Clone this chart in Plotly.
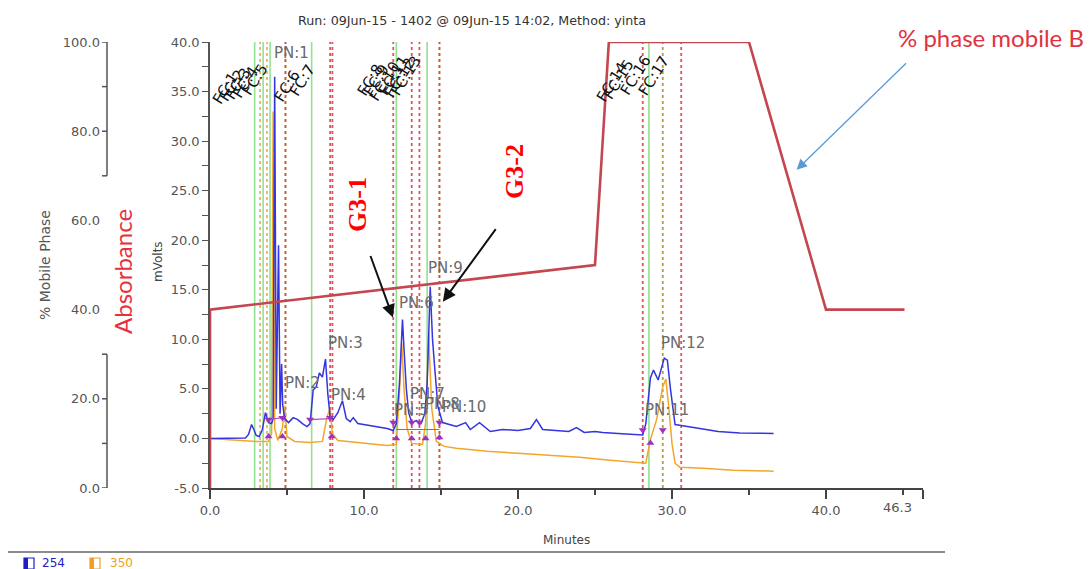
import plotly.graph_objects as go

# ---------------- data ----------------
# detector trace at 254 nm (minutes, mV)
time_254 = [0.0, 1.0, 2.3, 2.5, 2.7, 2.85, 3.0, 3.2, 3.4, 3.6, 3.8, 4.0, 4.1, 4.2, 4.3, 4.45, 4.55,
            4.65, 4.72, 4.85, 5.1, 5.4, 5.7, 6.0, 6.3, 6.5, 6.7, 6.9, 7.1, 7.3, 7.5, 7.65, 7.8,
            8.0, 8.3, 8.6, 8.85, 9.1, 9.3, 9.6, 10.0, 10.5, 11.0, 11.5, 11.9, 12.1, 12.3, 12.5,
            12.6, 12.75, 12.9, 13.1, 13.4, 13.7, 13.95, 14.1, 14.3, 14.45, 14.6, 14.8, 15.1,
            15.5, 16.0, 16.6, 16.9, 17.5, 18.2, 19.0, 20.0, 20.8, 21.2, 21.6, 22.5, 23.3, 23.8,
            24.3, 25.0, 25.5, 26.5, 27.5, 28.1, 28.3, 28.45, 28.6, 28.8, 29.1, 29.5, 29.7, 29.9,
            30.0, 30.2, 30.6, 31.0, 32.0, 33.0, 34.4, 36.6]
mv_254 = [0.0, 0.0, 0.05, 0.4, 1.4, 0.9, 0.3, 0.2, 0.9, 2.6, 1.6, 1.5, 2.0, 36.5, 3.0, 19.5, 2.5,
          7.5, 3.4, 2.0, 1.6, 2.1, 1.9, 1.5, 1.2, 1.5, 4.9, 5.2, 6.6, 6.2, 8.0, 4.5, 2.2,
          1.9, 2.6, 3.8, 2.0, 1.7, 2.1, 1.5, 1.4, 1.3, 1.1, 1.0, 0.8, 1.5, 5.5, 12.0,
          9.0, 5.0, 2.6, 1.6, 1.8, 1.5, 2.5, 5.5, 15.3, 10.0, 7.0, 3.2, 1.6,
          1.4, 1.2, 1.6, 0.9, 1.6, 0.7, 0.9, 0.8, 1.0, 1.9, 0.9, 0.8, 0.7, 1.1,
          0.6, 0.7, 0.6, 0.5, 0.45, 0.35, 1.5, 4.2, 6.1, 6.9, 5.9, 8.1, 7.9, 5.0,
          3.6, 1.4, 1.3, 1.2, 0.9, 0.7, 0.55, 0.5]

# detector trace at 350 nm (minutes, mV)
time_350 = [0.0, 2.0, 3.0, 3.8, 4.0, 4.1, 4.2, 4.4, 4.7, 4.85, 5.0, 5.5, 6.5, 7.3, 7.6, 7.8,
            7.95, 8.3, 9.0, 10.2, 11.5, 12.1, 12.3, 12.45, 12.6, 12.8, 13.1, 13.8, 14.0, 14.2,
            14.4, 14.7, 15.2, 16.0, 18.0, 20.0, 22.0, 24.0, 26.0, 28.0, 28.3, 28.6, 29.0, 29.4,
            29.6, 29.8, 30.0, 30.2, 30.5, 32.0, 34.0, 36.6]
mv_350 = [0.0, -0.2, -0.3, -0.3, 0.5, 33.0, 1.0, -0.2, 1.0, 3.3, 0.2, -0.3, -0.4, -0.3, 2.2, 3.0,
          0.5, -0.2, -0.3, -0.5, -0.7, -0.6, 4.5, 9.6, 5.0, 1.0, -0.5, -0.6, 1.5, 10.5,
          3.0, -0.3, -0.8, -1.0, -1.3, -1.5, -1.7, -1.9, -2.2, -2.4, -2.5, -0.1, 1.9, 5.2,
          6.0, 3.0, -0.5, -2.5, -2.9, -3.0, -3.2, -3.3]

# solvent B gradient programme (minutes, %)
gradient_time = [0.0, 0.0, 25.0, 25.9, 35.0, 40.0, 45.1]
gradient_pct = [0.0, 40.0, 50.0, 100.0, 100.0, 40.0, 40.0]

# peak start / end events and integration baselines
peak_start_time = [3.8, 4.7, 6.5, 7.8, 11.9, 13.1, 13.6, 14.9, 28.1, 29.4]
peak_start_mv = [1.9, 2.1, 1.9, 2.1, 1.6, 1.6, 1.6, 1.6, 0.85, 0.85]
peak_end_time = [3.8, 4.7, 7.9, 12.1, 13.1, 14.0, 14.9, 28.6]
peak_end_mv = [0.2, 0.2, 0.2, 0.0, 0.0, 0.0, 0.1, -0.45]
baseline_time = [3.8, 4.7, None, 6.5, 7.8, None, 12.1, 14.9]
baseline_mv = [1.9, 2.1, None, 1.9, 2.0, None, 0.9, 0.9]

# peak numbers and where their labels sit (minutes, mV)
pn_labels = ["PN:1", "PN:2", "PN:3", "PN:4", "PN:5", "PN:6", "PN:7", "PN:8", "PN:9", "PN:10",
             "PN:11", "PN:12"]
pn_time = [5.3, 6.0, 8.8, 9.0, 13.1, 13.4, 14.1, 15.1, 15.3, 16.5, 29.7, 30.7]
pn_mv = [38.9, 5.6, 9.6, 4.4, 2.9, 13.7, 4.5, 3.5, 17.2, 3.2, 2.9, 9.6]

# fraction collector labels
fc_labels = ["FC:1", "FC:2", "FC:3", "FC:4", "FC:5", "FC:6", "FC:7", "FC:8", "FC:9", "FC:10",
             "FC:11", "FC:12", "FC:13", "FC:14", "FC:15", "FC:16", "FC:17"]
fc_time = [1.0, 1.4, 1.8, 2.3, 2.9, 5.0, 6.0, 10.4, 10.8, 11.3, 11.9, 12.3, 12.7,
           26.1, 26.5, 27.6, 28.8]
fc_mv = [35.4, 35.6, 35.8, 36.0, 36.2, 35.6, 36.2, 36.2, 36.2, 36.0, 36.6, 36.4, 36.6,
         36.0, 36.2, 36.6, 36.6]

# fraction cut marks (minutes)
cut_green = [2.9, 3.45, 3.9, 6.6, 12.1, 14.1, 28.5]
cut_orange = [3.25, 3.7]
cut_brown = [4.9, 14.9]
cut_red = [7.8, 7.95, 11.9, 13.1, 13.6, 28.1, 30.6]
cut_olive = [29.4]

x_ticks = [0, 10, 20, 30, 40, 46.3]
x_tick_text = ["0.0", "10.0", "20.0", "30.0", "40.0", ""]
x_minor = [5, 15, 25, 35, 45]
mv_ticks = [-5 + 2.5 * i for i in range(19)]
pct_labels = [0, 20, 40, 60, 80, 100]
pct_tick_marks = [0, 10, 20, 30, 70, 80, 90, 100]

# ---------------- layout helpers ----------------
W, H = 1090, 569
TOP, BOT = 42, 488          # plot area in pixels
LEFT, RIGHT = 210, 923


def px(x):
    return x / W


def py(y):
    return (BOT - y) / (BOT - TOP)


AXIS_GREY = "#555555"
TICK_FONT = dict(family="DejaVu Sans", size=13, color=AXIS_GREY)

fig = go.Figure()

# gradient
fig.add_trace(go.Scatter(x=gradient_time, y=gradient_pct, yaxis="y2", mode="lines",
                         line=dict(color="#c4464f", width=2.6), hoverinfo="skip"))
# 350 nm
fig.add_trace(go.Scatter(x=time_350, y=mv_350, mode="lines",
                         line=dict(color="#f4a62a", width=1.5)))
# 254 nm
fig.add_trace(go.Scatter(x=time_254, y=mv_254, mode="lines",
                         line=dict(color="#3434e0", width=1.5)))
# integration baselines and events
fig.add_trace(go.Scatter(x=baseline_time, y=baseline_mv, mode="lines",
                         line=dict(color="#b050c8", width=1.2)))
fig.add_trace(go.Scatter(x=peak_start_time, y=peak_start_mv, mode="markers",
                         marker=dict(symbol="triangle-down", size=7, color="#a030c0")))
fig.add_trace(go.Scatter(x=peak_end_time, y=peak_end_mv, mode="markers",
                         marker=dict(symbol="triangle-up", size=7, color="#a030c0")))

shapes = []


def cut_lines(times, color, dash, width):
    for t in times:
        shapes.append(dict(type="line", xref="x", yref="y domain", x0=t, x1=t, y0=0, y1=1,
                           line=dict(color=color, width=width, dash=dash), layer="below"))


cut_lines(cut_green, "#92e292", "solid", 1.6)
cut_lines(cut_orange, "#e8aa50", "dot", 1.6)
cut_lines(cut_brown, "#c4602e", "dot", 2.0)
cut_lines(cut_red, "#e6505a", "dot", 1.8)
cut_lines(cut_olive, "#b0a040", "dot", 1.8)

# broken % mobile phase axis
axis_x = px(107)
for lo, hi in [(0, 30), (70, 100)]:
    shapes.append(dict(type="line", xref="paper", yref="y2", x0=axis_x, x1=axis_x, y0=lo, y1=hi,
                       line=dict(color=AXIS_GREY, width=1.5)))
for v in pct_tick_marks:
    shapes.append(dict(type="line", xref="paper", yref="y2", x0=px(102), x1=axis_x, y0=v, y1=v,
                       line=dict(color=AXIS_GREY, width=1.5)))

# legend bar at the foot
shapes.append(dict(type="line", xref="paper", yref="paper", x0=px(8), x1=px(945),
                   y0=py(552), y1=py(552), line=dict(color="#8c8c8c", width=2)))
for x0, col in [(24, "#1c1cc8"), (90, "#f0a020")]:
    shapes.append(dict(type="rect", xref="paper", yref="paper", x0=px(x0), x1=px(x0 + 10),
                       y0=py(569), y1=py(558), line=dict(color=col, width=1.2),
                       fillcolor="white"))
    shapes.append(dict(type="rect", xref="paper", yref="paper", x0=px(x0), x1=px(x0 + 4),
                       y0=py(569), y1=py(558), line=dict(width=0), fillcolor=col))

annotations = []


def note(x, y, text, font, xref="paper", yref="paper", angle=0, xanchor="center"):
    annotations.append(dict(x=x, y=y, xref=xref, yref=yref, text=text, showarrow=False,
                            textangle=angle, xanchor=xanchor, yanchor="middle", font=font))


# peak numbers
for lab, t, v in zip(pn_labels, pn_time, pn_mv):
    note(t, v, lab, dict(family="DejaVu Sans", size=15, color="#6a6a6a"), "x", "y")
# fraction labels
for lab, t, v in zip(fc_labels, fc_time, fc_mv):
    note(t, v, lab, dict(family="DejaVu Sans", size=15, color="#111111"), "x", "y", angle=-58)

note(px(472), py(20), "Run: 09Jun-15 - 1402 @ 09Jun-15 14:02, Method: yinta",
     dict(family="DejaVu Sans", size=12.7, color="#333333"))
note(px(567), py(540), "Minutes", dict(family="DejaVu Sans", size=12, color="#444444"))
note(px(897), py(508), "46.3", TICK_FONT)
note(px(158), py(262), "mVolts", dict(family="DejaVu Sans", size=12, color="#444444"), angle=-90)
note(px(45), py(265), "% Mobile Phase", dict(family="DejaVu Sans", size=14, color="#555555"),
     angle=-90)
note(px(122), py(272), "Absorbance", dict(family="Lato", size=24, color="#e8303c"), angle=-90)
note(px(991), py(38), "% phase mobile B", dict(family="Lato", size=24, color="#e0323f"))
note(px(358), py(205), "<b>G3-1</b>", dict(family="Liberation Serif", size=26, color="#ff0000"),
     angle=-90)
note(px(515), py(172), "<b>G3-2</b>", dict(family="Liberation Serif", size=26, color="#ff0000"),
     angle=-90)
note(px(40), py(563), "254", dict(family="DejaVu Sans", size=12, color="#2020c0"),
     xanchor="left")
note(px(108), py(563), "350", dict(family="DejaVu Sans", size=12, color="#f0a020"),
     xanchor="left")

annotations += [
    # arrows pointing at the two collected peaks
    dict(x=11.88, y=12.2, xref="x", yref="y", ax=-23, ay=-63, showarrow=True, text="",
         arrowhead=2, arrowsize=1.3, arrowwidth=2, arrowcolor="#111111"),
    dict(x=15.12, y=13.8, xref="x", yref="y", ax=54, ay=-74, showarrow=True, text="",
         arrowhead=2, arrowsize=1.3, arrowwidth=2, arrowcolor="#111111"),
    # arrow to the gradient trace
    dict(x=38.09, y=27.1, xref="x", yref="y", ax=111, ay=-108, showarrow=True, text="",
         arrowhead=2, arrowsize=1.6, arrowwidth=1.3, arrowcolor="#5b9bd5"),
]

fig.update_layout(
    template="none",
    width=W, height=H,
    margin=dict(l=0, r=0, t=TOP, b=H - BOT, pad=0),
    paper_bgcolor="white", plot_bgcolor="white",
    showlegend=False,
    shapes=shapes,
    annotations=annotations,
    xaxis=dict(domain=[px(LEFT), px(RIGHT)], range=[0, 46.3], showgrid=False, zeroline=False,
               automargin=False,
               showline=True, linecolor="#444444", linewidth=2,
               tickvals=x_ticks, ticktext=x_tick_text, ticks="outside", ticklen=9,
               tickwidth=1.5, tickcolor="#444444", tickfont=TICK_FONT,
               minor=dict(tickvals=x_minor, ticks="outside", ticklen=5, tickwidth=1.5,
                          tickcolor="#444444")),
    yaxis=dict(range=[-5, 40], showgrid=False, zeroline=False, showline=True, automargin=False,
               linecolor=AXIS_GREY, linewidth=1.5, tickvals=mv_ticks,
               ticktext=[f"{v:.1f}" if v % 5 == 0 else "" for v in mv_ticks],
               ticks="outside", ticklen=6, tickwidth=1.3, tickcolor=AXIS_GREY,
               tickfont=TICK_FONT),
    yaxis2=dict(range=[0, 100], overlaying="y", anchor="free", position=px(107), side="left",
                automargin=False,
                showgrid=False, zeroline=False, showline=False, ticks="",
                tickvals=pct_labels, ticktext=[f"{v:.1f}" for v in pct_labels],
                ticklabelstandoff=7, tickfont=TICK_FONT),
)

fig.write_html("out.html")
